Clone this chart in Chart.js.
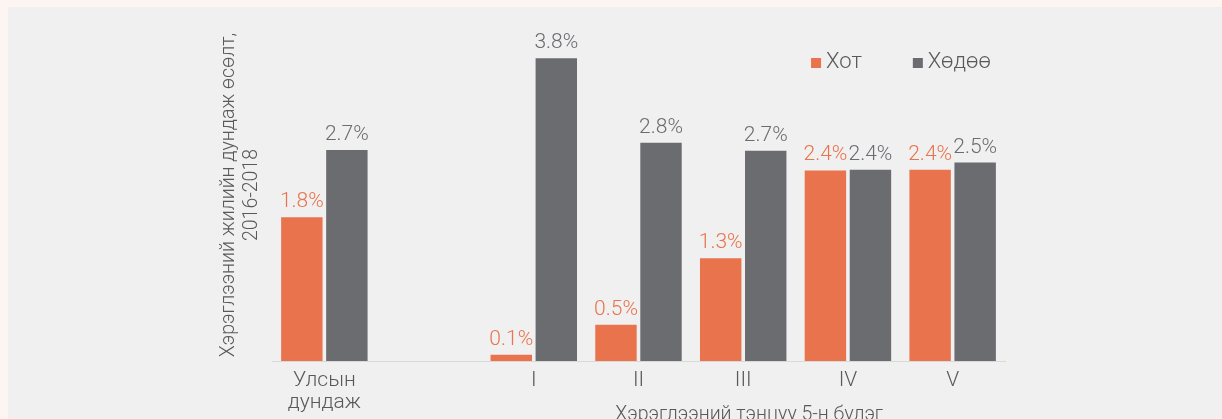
<!DOCTYPE html>
<html>
<head>
<meta charset="utf-8">
<script src="https://cdn.jsdelivr.net/npm/chart.js@4.4.0/dist/chart.umd.min.js"></script>
<style>
  html, body { margin: 0; padding: 0; }
  body { background: #fdf5f2; width: 1222px; height: 419px; overflow: hidden; position: relative; }
  #panel { position: absolute; left: 8px; top: 7px; right: 0; bottom: 0; background: #f0f0f0; }
  #salaryChart { position: absolute; left: 0; top: 0; }
</style>
</head>
<body>
<div id="panel"></div>
<canvas id="salaryChart" width="1222" height="419"></canvas>
<script>
// données
const categories = [['Улсын', 'дундаж'], '', 'I', 'II', 'III', 'IV', 'V'];
const hotValues = [1.82, null, 0.08, 0.46, 1.30, 2.41, 2.42];
const hodooValues = [2.67, null, 3.83, 2.76, 2.66, 2.42, 2.51];
const seriesNames = ['Хот', 'Хөдөө'];
const yTitle = ['Хэрэглээний жилийн дундаж өсөлт,', '2016-2018'];
const xTitle = 'Хэрэглээний тэнцуу 5-н бүлэг';

const orange = '#e9734c';
const grey = '#6b6c70';
const textGrey = '#595959';
const fontFamily = 'Roboto, "Noto Sans", sans-serif';

// étiquettes de valeur au-dessus des barres
const valueLabels = {
    id: 'valueLabels',
    afterDatasetsDraw(chart) {
        const ctx = chart.ctx;
        ctx.save();
        ctx.font = '300 21px ' + fontFamily;
        ctx.textAlign = 'center';
        ctx.textBaseline = 'alphabetic';
        chart.data.datasets.forEach((ds, i) => {
            const meta = chart.getDatasetMeta(i);
            meta.data.forEach((bar, j) => {
                const v = ds.data[j];
                if (v === null || v === undefined) return;
                ctx.fillStyle = ds.backgroundColor;
                ctx.fillText(v.toFixed(1) + '%', bar.x, bar.y - 10);
            });
        });
        ctx.restore();
    }
};

// légende dessinée dans la zone du graphique
const innerLegend = {
    id: 'innerLegend',
    afterDraw(chart) {
        const ctx = chart.ctx;
        ctx.save();
        ctx.font = '300 22px ' + fontFamily;
        ctx.textBaseline = 'middle';
        const box = 10, gap = 5, itemGap = 51;
        const widths = chart.data.datasets.map(ds => box + gap + ctx.measureText(ds.label).width);
        const total = widths.reduce((a, b) => a + b, 0) + itemGap * (widths.length - 1);
        let x = chart.chartArea.right - 14 - total;
        const y = chart.chartArea.top + 33;
        chart.data.datasets.forEach((ds, i) => {
            ctx.fillStyle = ds.backgroundColor;
            ctx.fillRect(x, y - box / 2 + 1, box, box);
            ctx.fillStyle = textGrey;
            ctx.fillText(ds.label, x + box + gap, y);
            x += widths[i] + itemGap;
        });
        ctx.restore();
    }
};

// titre de l'axe x centré sous les groupes I-V
const xAxisTitle = {
    id: 'xAxisTitle',
    afterDraw(chart) {
        const ctx = chart.ctx;
        const sx = chart.scales.x;
        const cx = (sx.getPixelForValue(2) + sx.getPixelForValue(6)) / 2 + 6;
        ctx.save();
        ctx.font = '300 19.5px ' + fontFamily;
        ctx.fillStyle = textGrey;
        ctx.textAlign = 'center';
        ctx.textBaseline = 'alphabetic';
        ctx.fillText(xTitle, cx, 420);
        ctx.restore();
    }
};

function initChart() {
    const ctx = document.getElementById('salaryChart').getContext('2d');
    new Chart(ctx, {
        type: 'bar',
        data: {
            labels: categories,
            datasets: [{
                label: seriesNames[0],
                data: hotValues,
                backgroundColor: orange,
                categoryPercentage: 0.86,
                barPercentage: 0.92
            }, {
                label: seriesNames[1],
                data: hodooValues,
                backgroundColor: grey,
                categoryPercentage: 0.86,
                barPercentage: 0.92
            }]
        },
        options: {
            responsive: false,
            animation: false,
            devicePixelRatio: 1,
            layout: {
                padding: { left: 214, right: 217, top: 29, bottom: 0 }
            },
            scales: {
                x: {
                    grid: { display: false, drawTicks: false },
                    border: { display: true, color: '#d9d9d9', width: 1 },
                    ticks: {
                        color: textGrey,
                        padding: 9,
                        font: { family: fontFamily, size: 21, weight: 300, lineHeight: 1.05 }
                    },
                    afterFit: function(scale) { scale.height = 58; }
                },
                y: {
                    min: 0,
                    max: 4.2,
                    grid: { display: false, drawTicks: false },
                    border: { display: false },
                    ticks: { display: false },
                    title: {
                        display: true,
                        text: yTitle,
                        color: textGrey,
                        padding: { top: 4, bottom: 4 },
                        font: { family: fontFamily, size: 19.5, weight: 300, lineHeight: 1.15 }
                    },
                    afterFit: function(scale) { scale.width = 58; }
                }
            },
            plugins: {
                legend: { display: false },
                tooltip: { enabled: false }
            }
        },
        plugins: [valueLabels, innerLegend, xAxisTitle]
    });
}

document.addEventListener('DOMContentLoaded', initChart);
</script>
</body>
</html>
